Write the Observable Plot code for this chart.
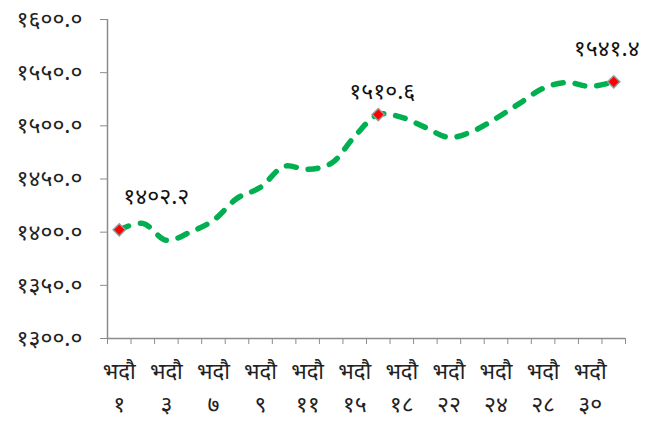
<!DOCTYPE html>
<html>
<head>
<meta charset="utf-8">
<script src="https://cdn.jsdelivr.net/npm/d3@7"></script>
<script src="https://cdn.jsdelivr.net/npm/@observablehq/plot@0.6"></script>
<style>
  html, body { margin: 0; padding: 0; background: #fff; }
  #chart { width: 647px; height: 421px; }
  svg { font-family: "Noto Sans Devanagari", "Lohit Devanagari", "FreeSans", "Noto Sans", sans-serif; }
</style>
</head>
<body>
<div id="chart"></div>
<script>
// Trading days of Bhadra (category axis)
const days = ["१","२","३","४","७","८","९","१०","११","१४","१५","१७","१८","२१","२२","२३","२४","२५","२८","२९","३०","३१"];
const monthName = "भदौ";
// Index values
const values = [1402.2, 1408.3, 1392.4, 1399.9, 1411.2, 1431.8, 1442.2, 1461.9, 1459.1, 1464.7, 1490.1,
                1510.6, 1508.0, 1498.5, 1489.1, 1494.8, 1507.0, 1521.1, 1535.2, 1540.8, 1537.1, 1541.4];
// Highlighted (labelled) points
const highlightIdx = [0, 11, 21];
const yTicks = [1300, 1350, 1400, 1450, 1500, 1550, 1600];

const devDigits = "०१२३४५६७८९";
const toDev = s => String(s).replace(/[0-9]/g, d => devDigits[+d]);

const data = values.map((v, i) => ({i, x: i + 0.5, v, day: days[i]}));
const hl = highlightIdx.map(i => data[i]);
const labelTicks = data.filter(d => d.i % 2 === 0).map(d => d.x);
const boundaryTicks = d3.range(0, days.length + 1);

const axisGrey = "#8c8c8c";
const fs = 23;

const chart = Plot.plot({
  width: 647,
  height: 421,
  marginLeft: 107,
  marginRight: 22,
  marginTop: 19,
  marginBottom: 83,
  style: {fontSize: fs + "px", background: "#fff"},
  x: {domain: [0, days.length], axis: null},
  y: {domain: [1300, 1600], axis: null},
  marks: [
    Plot.axisY({ticks: yTicks, tickSize: 7, tickPadding: 18, stroke: axisGrey, fill: "#222", label: null,
      tickFormat: d => toDev(d.toFixed(1)), fontSize: fs}),
    Plot.axisX({ticks: boundaryTicks, tickSize: 6, tickFormat: null, stroke: axisGrey, text: null, label: null}),
    Plot.axisX({ticks: labelTicks, tickSize: 0, tickPadding: 25, fill: "#222", fontSize: 22, label: null,
      tickFormat: () => monthName}),
    Plot.axisX({ticks: labelTicks, tickSize: 0, tickPadding: 57, fill: "#222", fontSize: fs, label: null,
      tickFormat: x => data[Math.floor(x)].day}),
    Plot.ruleX([0], {stroke: axisGrey, strokeWidth: 1.5}),
    Plot.ruleY([1300], {stroke: axisGrey, strokeWidth: 1.5}),
    Plot.line(data, {x: "x", y: "v", curve: "catmull-rom", stroke: "#00b050", strokeWidth: 5.5,
      strokeLinecap: "round", strokeDasharray: "10,12"}),
    Plot.dot(hl, {x: "x", y: "v", symbol: "diamond2", r: 5.5, fill: "#ff0000", stroke: "#9a9a9a", strokeWidth: 1.5}),
    Plot.text(hl.filter(d => d.i === 0), {x: "x", y: "v", text: d => toDev(d.v.toFixed(1)), dx: 37, dy: -33, fontSize: fs, fill: "#111"}),
    Plot.text(hl.filter(d => d.i === 11), {x: "x", y: "v", text: d => toDev(d.v.toFixed(1)), dx: 4, dy: -23, fontSize: fs, fill: "#111"}),
    Plot.text(hl.filter(d => d.i === 21), {x: "x", y: "v", text: d => toDev(d.v.toFixed(1)), dx: -7, dy: -33, fontSize: fs, fill: "#111"})
  ]
});
document.getElementById("chart").appendChild(chart);
</script>
</body>
</html>
